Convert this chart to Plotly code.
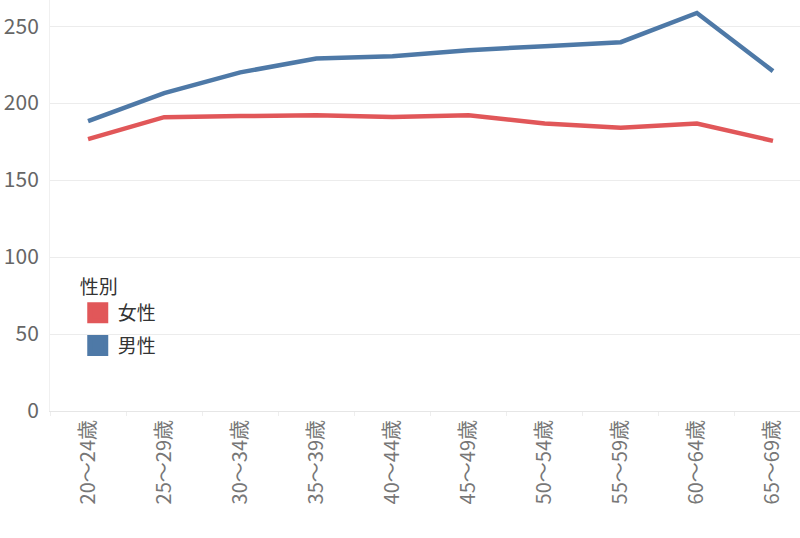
import plotly.graph_objects as go

age_groups = ["20～24歳", "25～29歳", "30～34歳", "35～39歳", "40～44歳",
              "45～49歳", "50～54歳", "55～59歳", "60～64歳", "65～69歳"]
female = [176.6, 190.9, 191.6, 192.2, 191.0, 192.2, 186.8, 184.0, 186.8, 175.5]
male = [188.3, 206.5, 220.0, 229.0, 230.5, 234.4, 237.0, 239.6, 258.6, 220.8]
series_names = ["女性", "男性"]
colors = ["#e15759", "#4e79a7"]

font_family = "Noto Sans CJK JP, Noto Sans, sans-serif"

fig = go.Figure()
for name, vals, col in zip(series_names, [female, male], colors):
    fig.add_trace(go.Scatter(x=age_groups, y=vals, mode="lines", name=name,
                             line=dict(color=col, width=4.5), showlegend=False))
    # square swatch for the legend
    fig.add_trace(go.Scatter(x=[None], y=[None], mode="markers", name=name,
                             legendgroup=name,
                             marker=dict(symbol="square", size=16, color=col,
                                         line=dict(color=col, width=5))))

fig.update_layout(
    width=800, height=538,
    margin=dict(l=50, r=0, t=0, b=127),
    paper_bgcolor="white", plot_bgcolor="white",
    font=dict(family=font_family, color="#666666"),
    legend=dict(
        title=dict(text="性別", font=dict(size=19, color="#333333")),
        font=dict(size=19, color="#333333"),
        x=0.037, y=0.345, xanchor="left", yanchor="top",
        bgcolor="rgba(0,0,0,0)", itemwidth=30,
        traceorder="grouped", tracegroupgap=5,
    ),
    xaxis=dict(
        type="category", range=[-0.5, 9.355], tickangle=-90,
        tickfont=dict(size=20, color="#777777"),
        showgrid=False, showline=True, linecolor="#e6e6e6", linewidth=1,
        ticks="outside", tickson="boundaries", ticklen=4, tickcolor="#eeeeee",
        zeroline=False, automargin=False,
    ),
    yaxis=dict(
        range=[0, 267], tickvals=[0, 50, 100, 150, 200, 250],
        tickfont=dict(size=21, color="#666666"),
        showgrid=True, gridcolor="#ececec", gridwidth=1,
        showline=True, linecolor="#f0f0f0", zeroline=False,
        ticks="", ticklabelstandoff=6, automargin=False,
    ),
)

# the page's default body margin would push the chart 8px off the corner
fig.write_html("out.html", config={"displayModeBar": False},
               post_script="document.body.style.margin = '0';")
